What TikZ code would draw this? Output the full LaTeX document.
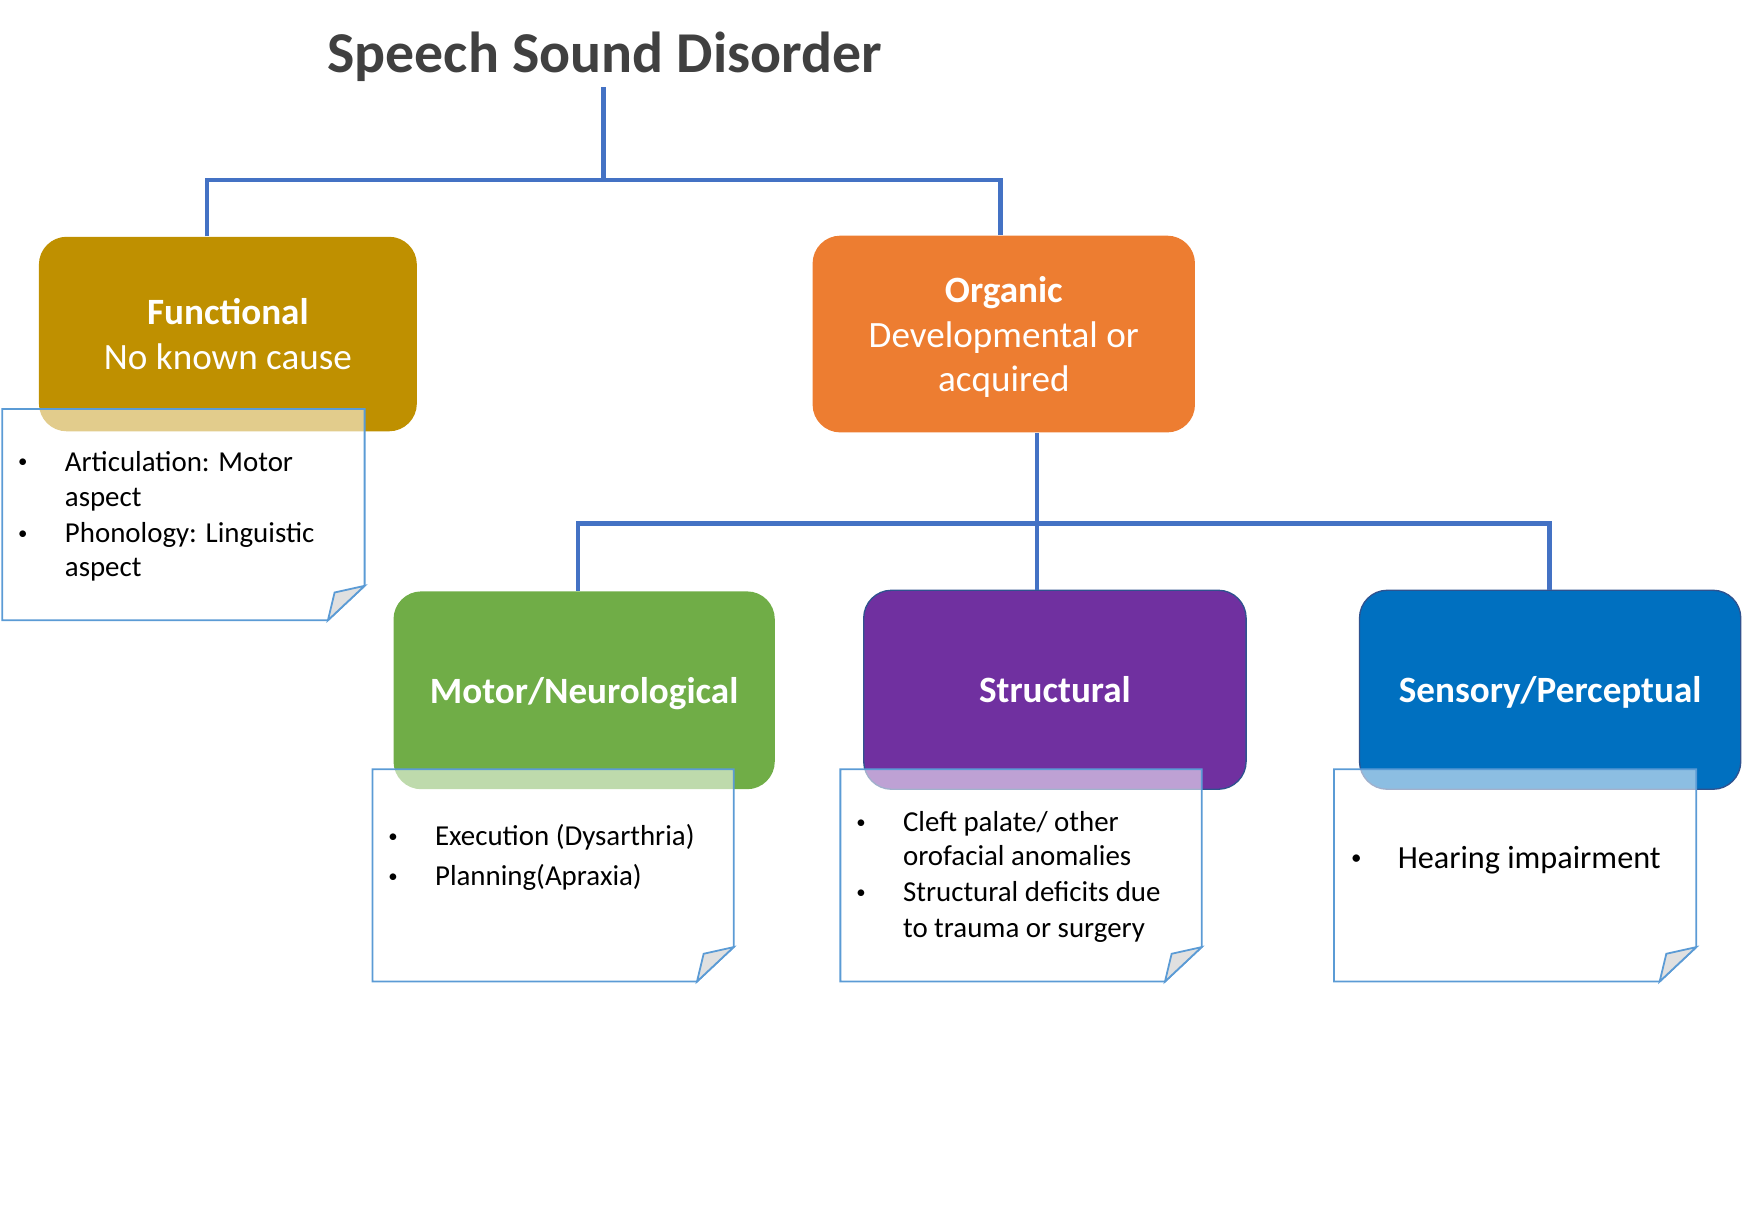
\documentclass[tikz,border=0pt]{standalone}
\usepackage{fontspec}
\setmainfont{Carlito}
\usetikzlibrary{calc}
\definecolor{linkblue}{HTML}{4472C4}
\definecolor{noteblue}{HTML}{5B9BD5}
\definecolor{foldgray}{HTML}{E0E0E0}
\definecolor{gold}{HTML}{BF9000}
\definecolor{orng}{HTML}{ED7D31}
\definecolor{grn}{HTML}{70AD47}
\definecolor{purp}{HTML}{7030A0}
\definecolor{blu}{HTML}{0070C0}
\definecolor{outl}{HTML}{2F528F}
\definecolor{titlegray}{HTML}{404040}
\newcommand{\mynote}[4]{%
  \filldraw[fill=white, fill opacity=0.55, draw=noteblue, line width=0.8pt, line join=miter]
    (#1,#2) -- (#3,#2) -- (#3,#4-31) -- (#3-33,#4) -- (#1,#4) -- cycle;
  \filldraw[fill=foldgray, draw=noteblue, line width=0.8pt, line join=miter]
    (#3-33,#4) -- (#3-27,#4-25) -- (#3,#4-31) -- cycle;}
\newcommand{\mybul}{\makebox[22pt][l]{\hspace{1pt}\raisebox{0.12em}{\scalebox{0.65}{\textbullet}}}}
\begin{document}
\begin{tikzpicture}[x=0.5pt,y=-0.5pt,
  conn/.style={draw=linkblue, line width=2pt},
  catbox/.style={rounded corners=12.5pt, inner sep=0pt, text=white, align=center,
    text depth=0pt, font=\fontsize{16.7}{20}\selectfont},
  titletext/.style={anchor=base, inner sep=0pt, text=titlegray,
    font=\fontsize{26}{30}\selectfont\bfseries},
  notetext/.style={anchor=base west, inner sep=0pt, font=\fontsize{13}{15}\selectfont},
  bignotetext/.style={anchor=base west, inner sep=0pt, font=\fontsize{14.5}{17}\selectfont}]
\useasboundingbox (0,0) rectangle (1568,1091);

% title
\node[titletext] (title) at (544,65) {Speech Sound Disorder};

% category boxes
\node[catbox, fill=gold, minimum width=170pt, minimum height=87.5pt] (fun) at (205,300.5)
  {\textbf{Functional}\\No known cause};
\node[catbox, fill=orng, minimum width=172pt, minimum height=88.5pt] (org) at (903,300.5)
  {\textbf{Organic}\\Developmental or\\acquired};
\node[catbox, fill=grn, minimum width=171.5pt, minimum height=89pt] (mot) at (525.5,621)
  {\textbf{Motor/Neurological}};
\node[catbox, fill=purp, draw=outl, line width=0.6pt, minimum width=172pt, minimum height=89.5pt] (str) at (949,620.5)
  {\textbf{Structural}};
\node[catbox, fill=blu, draw=outl, line width=0.6pt, minimum width=171.5pt, minimum height=89.5pt] (sen) at (1394.5,620.5)
  {\textbf{Sensory/Perceptual}};

% connectors
\coordinate (j0) at (543,162);
\coordinate (j1) at (933,471);
\draw[conn] ([yshift=-2.5pt]title.south -| j0) -- (j0);
\draw[conn] ($(fun.north)+(-19,0)$) |- (j0) -| ($(org.north)+(-3,0)$);
\draw[conn] (org.south -| j1) -- (str.north -| j1);
\draw[conn] ($(mot.north)+(-5.5,0)$) |- (j1) -| ($(sen.north)+(-0.5,0)$);

% notes
\mynote{2}{368}{328}{558}
\mynote{335}{692}{660}{883}
\mynote{756}{692}{1081}{883}
\mynote{1200}{692}{1526}{883}

% note texts
\node[notetext] (f1) at (14,424) {\mybul Articulation: Motor};
\node[notetext] (f2) at (58,456) {aspect};
\node[notetext] (f3) at (14,488) {\mybul Phonology: Linguistic};
\node[notetext] (f4) at (58,519) {aspect};

\node[notetext] (m1) at (347,761) {\mybul Execution (Dysarthria)};
\node[notetext] (m2) at (347,797) {\mybul Planning(Apraxia)};

\node[notetext] (s1) at (768,748) {\mybul Cleft palate/ other};
\node[notetext] (s2) at (812,779) {orofacial anomalies};
\node[notetext] (s3) at (768,811) {\mybul Structural deficits due};
\node[notetext] (s4) at (812,843) {to trauma or surgery};

\node[bignotetext] (h1) at (1213,781) {\mybul Hearing impairment};
\end{tikzpicture}
\end{document}
